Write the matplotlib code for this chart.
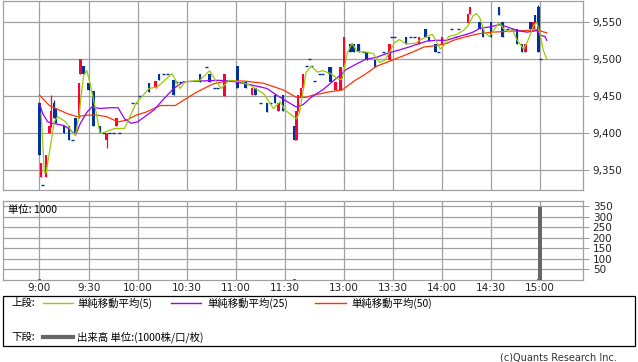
import numpy as np
import matplotlib
matplotlib.use("Agg")
import matplotlib.pyplot as plt
from matplotlib.patches import Rectangle
from matplotlib.ticker import FuncFormatter

plt.rcParams['font.family'] = ['DejaVu Sans']
JP = ['Noto Sans CJK JP', 'DejaVu Sans']

# --- data ---
# candles: time, open, high, low, close
c_time = ['9:00', '9:01', '9:02', '9:04', '9:06', '9:07', '9:09', '9:10', '9:15', '9:18',
          '9:20', '9:22', '9:24', '9:25', '9:27', '9:30', '9:33', '9:37', '9:39', '9:41',
          '9:43', '9:45', '9:47', '9:49', '9:57', '9:59', '10:01', '10:07', '10:11', '10:13',
          '10:16', '10:18', '10:22', '10:24', '10:26', '10:38', '10:42', '10:44', '10:47', '10:49',
          '10:53', '11:01', '11:03', '11:06', '11:10', '11:12', '11:15', '11:19', '11:21', '11:24',
          '11:26', '11:29',
          '12:30', '12:31', '12:32', '12:34', '12:35', '12:37', '12:39', '12:40', '12:42', '12:45',
          '12:47', '12:51', '12:52', '12:55', '12:58', '13:00', '13:04', '13:06', '13:09', '13:12',
          '13:14', '13:19', '13:24', '13:28', '13:29', '13:31', '13:38', '13:41', '13:43', '13:46',
          '13:50', '13:52', '13:56', '13:58', '14:00', '14:06', '14:08', '14:10', '14:16', '14:17',
          '14:23', '14:25', '14:30', '14:35', '14:37', '14:40', '14:43', '14:46', '14:49', '14:51',
          '14:54', '14:56', '14:57', '14:59', '15:00']
c_open = [9440, 9341, 9330, 9341, 9400, 9410, 9440, 9432, 9410, 9410,
          9390, 9420, 9420, 9480, 9490, 9468, 9457, 9410, 9400, 9390,
          9400, 9400, 9410, 9400, 9440, 9440, 9450, 9468, 9460, 9480,
          9480, 9480, 9471, 9469, 9469, 9480, 9489, 9480, 9460, 9460,
          9450, 9490, 9469, 9469, 9451, 9460, 9441, 9441, 9440, 9451,
          9429, 9451,
          9410, 9390, 9430, 9448, 9460, 9490, 9500, 9490, 9470, 9480,
          9480, 9489, 9489, 9458, 9458, 9489, 9520, 9520, 9520, 9509,
          9509, 9499, 9509, 9499, 9530, 9530, 9530, 9530, 9530, 9520,
          9540, 9530, 9520, 9509, 9520, 9540, 9530, 9540, 9548, 9560,
          9549, 9540, 9549, 9570, 9549, 9540, 9540, 9540, 9520, 9509,
          9549, 9540, 9559, 9570, 9500]
c_high = [9442, 9359, 9330, 9370, 9410, 9451, 9444, 9432, 9410, 9410,
          9390, 9420, 9468, 9500, 9490, 9468, 9457, 9410, 9400, 9400,
          9400, 9400, 9420, 9400, 9440, 9440, 9450, 9468, 9470, 9480,
          9480, 9480, 9471, 9469, 9469, 9480, 9489, 9480, 9460, 9460,
          9480, 9490, 9469, 9469, 9460, 9460, 9441, 9441, 9440, 9451,
          9440, 9451,
          9410, 9430, 9451, 9460, 9480, 9490, 9500, 9490, 9470, 9480,
          9480, 9489, 9489, 9469, 9489, 9530, 9520, 9520, 9520, 9509,
          9509, 9499, 9509, 9520, 9530, 9530, 9530, 9530, 9530, 9530,
          9540, 9530, 9520, 9509, 9530, 9540, 9530, 9540, 9560, 9570,
          9549, 9540, 9549, 9570, 9549, 9540, 9540, 9540, 9520, 9520,
          9549, 9549, 9559, 9572, 9500]
c_low = [9370, 9341, 9330, 9341, 9400, 9408, 9420, 9413, 9400, 9390,
         9390, 9400, 9420, 9480, 9480, 9458, 9410, 9400, 9400, 9379,
         9400, 9400, 9410, 9400, 9440, 9440, 9450, 9455, 9460, 9471,
         9480, 9480, 9451, 9469, 9469, 9469, 9489, 9469, 9460, 9460,
         9450, 9460, 9469, 9460, 9451, 9451, 9441, 9428, 9440, 9440,
         9429, 9429,
         9390, 9390, 9430, 9448, 9460, 9490, 9500, 9490, 9470, 9480,
         9480, 9480, 9469, 9458, 9458, 9489, 9509, 9509, 9509, 9509,
         9499, 9489, 9509, 9499, 9530, 9530, 9520, 9530, 9530, 9520,
         9530, 9524, 9509, 9509, 9520, 9540, 9530, 9540, 9548, 9560,
         9540, 9530, 9530, 9559, 9530, 9540, 9540, 9520, 9509, 9509,
         9540, 9540, 9549, 9509, 9500]
c_close = [9370, 9359, 9330, 9370, 9410, 9430, 9420, 9413, 9400, 9390,
           9390, 9400, 9468, 9500, 9480, 9458, 9410, 9400, 9400, 9400,
           9400, 9400, 9420, 9400, 9440, 9440, 9450, 9455, 9470, 9471,
           9480, 9480, 9451, 9469, 9469, 9469, 9489, 9469, 9460, 9460,
           9480, 9460, 9469, 9460, 9460, 9451, 9441, 9428, 9440, 9440,
           9440, 9429,
           9390, 9430, 9451, 9460, 9480, 9490, 9500, 9490, 9470, 9480,
           9480, 9480, 9469, 9469, 9489, 9530, 9509, 9509, 9509, 9509,
           9499, 9489, 9509, 9520, 9530, 9530, 9520, 9530, 9530, 9530,
           9530, 9524, 9509, 9509, 9530, 9540, 9530, 9540, 9560, 9570,
           9540, 9530, 9530, 9559, 9530, 9540, 9540, 9520, 9509, 9520,
           9540, 9549, 9549, 9509, 9500]

# simple moving averages
ma5_time = ['9:01', '9:03', '9:04', '9:07', '9:09', '9:11', '9:16', '9:19', '9:22', '9:24',
            '9:27', '9:29', '9:31', '9:34', '9:37', '9:41', '9:46', '9:52', '9:59', '10:07',
            '10:12', '10:21', '10:26', '10:29', '10:38', '10:44', '10:47', '10:51', '10:56', '11:03',
            '11:09', '11:17', '11:23', '11:27', '11:30', '12:31', '12:33', '12:35', '12:37', '12:40',
            '12:44', '12:47', '12:52', '12:57', '12:59', '13:02', '13:05', '13:08', '13:14', '13:18',
            '13:22', '13:25', '13:28', '13:31', '13:34', '13:38', '13:44', '13:47', '13:50', '13:54',
            '13:56', '13:59', '14:02', '14:04', '14:09', '14:13', '14:16', '14:19', '14:21', '14:23',
            '14:26', '14:29', '14:32', '14:35', '14:38', '14:41', '14:43', '14:46', '14:50', '14:53',
            '14:56', '14:58', '15:00', '15:02', '15:04']
ma5 = [9426, 9346, 9346, 9386, 9415, 9422, 9415, 9404, 9397, 9422,
       9478, 9484, 9466, 9435, 9399, 9402, 9406, 9406, 9440, 9460,
       9462, 9480, 9460, 9469, 9471, 9484, 9473, 9460, 9471, 9469,
       9464, 9453, 9433, 9442, 9431, 9419, 9428, 9455, 9482, 9490,
       9482, 9484, 9480, 9472, 9473, 9507, 9521, 9510, 9509, 9507,
       9495, 9498, 9509, 9522, 9526, 9520, 9521, 9526, 9529, 9533,
       9526, 9513, 9520, 9530, 9533, 9538, 9545, 9558, 9561, 9556,
       9536, 9530, 9540, 9549, 9540, 9536, 9539, 9525, 9513, 9527,
       9545, 9549, 9533, 9511, 9500]

ma25_time = ['9:00', '9:02', '9:05', '9:08', '9:15', '9:19', '9:22', '9:25', '9:29', '9:32',
             '9:37', '9:43', '9:48', '9:52', '9:56', '10:00', '10:10', '10:16', '10:22', '10:28',
             '10:38', '10:50', '11:00', '11:11', '11:19', '11:25', '11:30', '12:31', '12:35', '12:40',
             '12:42', '12:47', '12:54', '12:59', '13:01', '13:06', '13:13', '13:20', '13:26', '13:34',
             '13:40', '13:44', '13:51', '13:57', '14:03', '14:07', '14:15', '14:19', '14:23', '14:29',
             '14:35', '14:40', '14:46', '14:52', '14:58', '15:00', '15:03', '15:04']
ma25 = [9440, 9426, 9415, 9413, 9410, 9404, 9397, 9413, 9428, 9435,
        9433, 9434, 9434, 9419, 9413, 9415, 9431, 9446, 9460, 9469,
        9470, 9471, 9469, 9464, 9460, 9451, 9444, 9435, 9438, 9448,
        9451, 9458, 9471, 9480, 9485, 9491, 9499, 9502, 9507, 9512,
        9516, 9519, 9524, 9525, 9525, 9528, 9533, 9536, 9541, 9543,
        9546, 9543, 9538, 9536, 9538, 9532, 9530, 9525]

ma50_time = ['9:00', '9:06', '9:12', '9:17', '9:23', '9:29', '9:35', '9:41', '9:48', '9:53',
             '9:59', '10:05', '10:14', '10:23', '10:28', '10:36', '10:46', '10:54', '11:05', '11:17',
             '11:29', '12:31', '12:37', '12:41', '12:46', '12:50', '12:59', '13:02', '13:07', '13:13',
             '13:20', '13:26', '13:34', '13:42', '13:49', '13:57', '14:03', '14:07', '14:15', '14:23',
             '14:31', '14:40', '14:50', '14:58', '15:01', '15:04']
ma50 = [9451, 9437, 9431, 9426, 9422, 9424, 9424, 9422, 9415, 9417,
        9424, 9428, 9437, 9437, 9444, 9455, 9466, 9470, 9470, 9467,
        9458, 9448, 9448, 9451, 9453, 9455, 9458, 9463, 9471, 9479,
        9490, 9495, 9502, 9509, 9516, 9518, 9521, 9525, 9530, 9534,
        9536, 9537, 9538, 9539, 9537, 9535]

vol_time = ['9:00', '12:30', '14:59', '15:00']
vol = [4, 3, 6, 345]

tick_labels = ['9:00', '9:30', '10:00', '10:30', '11:00', '11:30',
               '13:00', '13:30', '14:00', '14:30', '15:00']
price_ticks = [9350, 9400, 9450, 9500, 9550]
vol_ticks = [50, 100, 150, 200, 250, 300, 350]

LUNCH_GAP = 6  # slots drawn between 11:30 and 12:30


def t2x(s):
    h, m = map(int, s.split(':'))
    mins = h * 60 + m - 540
    if mins >= 210:  # afternoon session starts 12:30
        return mins - 210 + 150 + LUNCH_GAP
    return mins


UP = '#ff0033'
DOWN = '#003399'
GRID = '#a0a0a0'

fig = plt.figure(figsize=(6.38, 3.62), dpi=100)
W, H = 638, 362

ax = fig.add_axes([3 / W, 1 - 190 / H, 580 / W, 189 / H])
vax = fig.add_axes([3 / W, 1 - 280 / H, 580 / W, 79 / H])

xt = [t2x(s) for s in tick_labels]
for a in (ax, vax):
    a.set_xlim(-22.3, 332.2)
    a.set_xticks(xt)
    a.grid(color=GRID, lw=0.9)
    a.set_axisbelow(True)
    for sp in a.spines.values():
        sp.set_color(GRID)
        sp.set_linewidth(0.9)
    a.tick_params(axis='y', left=False, right=True, labelleft=False, labelright=True,
                  length=4, color=GRID, labelsize=7.5, pad=3, labelcolor='#222222')

ax.set_ylim(9323, 9578)
ax.set_yticks(price_ticks)
ax.yaxis.set_major_formatter(FuncFormatter(lambda v, p: '{:,}'.format(int(v))))
ax.tick_params(axis='x', length=0, labelbottom=False)

# candles
cx = np.array([t2x(s) for s in c_time])
o = np.array(c_open); hi = np.array(c_high); lo = np.array(c_low); cl = np.array(c_close)
col = np.where(cl > o, UP, DOWN)
ax.vlines(cx, lo, hi, colors=col, lw=0.9, zorder=3)
body = np.abs(cl - o)
doji = body == 0
ax.bar(cx[~doji], body[~doji], bottom=np.minimum(o, cl)[~doji], width=1.5,
       color=col[~doji], linewidth=0, zorder=3)
ax.hlines(cl[doji], cx[doji] - 0.9, cx[doji] + 0.9, colors=DOWN, lw=1.0, zorder=3)

ax.plot([t2x(s) for s in ma50_time], ma50, color='#ff3300', lw=0.9, zorder=4)
ax.plot([t2x(s) for s in ma25_time], ma25, color='#9900ff', lw=0.9, zorder=4)
ax.plot([t2x(s) for s in ma5_time], ma5, color='#99cc00', lw=0.9, zorder=5)

# volume
vax.set_ylim(0, 374)
vax.set_yticks(vol_ticks)
vax.bar([t2x(s) for s in vol_time], vol, width=2.0, color='#666666', linewidth=0, zorder=3)
vax.set_xticklabels(tick_labels)
vax.tick_params(axis='x', length=0, labelsize=7.5, pad=2, labelcolor='#222222')
fig.text(8 / W, 1 - 210 / H, '単位: 1000', family=JP, fontsize=7.5, va='center', ha='left')

# legend box
fig.patches.append(Rectangle((3 / W, 1 - 346 / H), 632 / W, 50 / H, transform=fig.transFigure,
                             fill=False, edgecolor='black', lw=0.9))


def fig_line(x0, x1, y, **kw):
    fig.add_artist(plt.Line2D([x0 / W, x1 / W], [1 - y / H, 1 - y / H],
                              transform=fig.transFigure, **kw))


def fig_label(x, y, s, **kw):
    fig.text(x / W, 1 - y / H, s, family=JP, fontsize=7.5, va='center', ha='left', **kw)


fig_label(11, 303, '上段:')
fig_line(43, 73, 303, color='#99cc00', lw=1)
fig_label(77, 303, '単純移動平均(5)')
fig_line(171, 201, 303, color='#9900ff', lw=1)
fig_label(207, 303, '単純移動平均(25)')
fig_line(315, 346, 303, color='#ff3300', lw=1)
fig_label(351, 303, '単純移動平均(50)')
fig_label(11, 337, '下段:')
fig_line(43, 73, 337, color='#666666', lw=3)
fig_label(77, 337, '出来高 単位:(1000株/口/枚)')

fig.text(617 / W, 1 - 357 / H, '(c)Quants Research Inc.', fontsize=7, color='#333333',
         ha='right', va='center')

fig.savefig('out.png', dpi=100)
